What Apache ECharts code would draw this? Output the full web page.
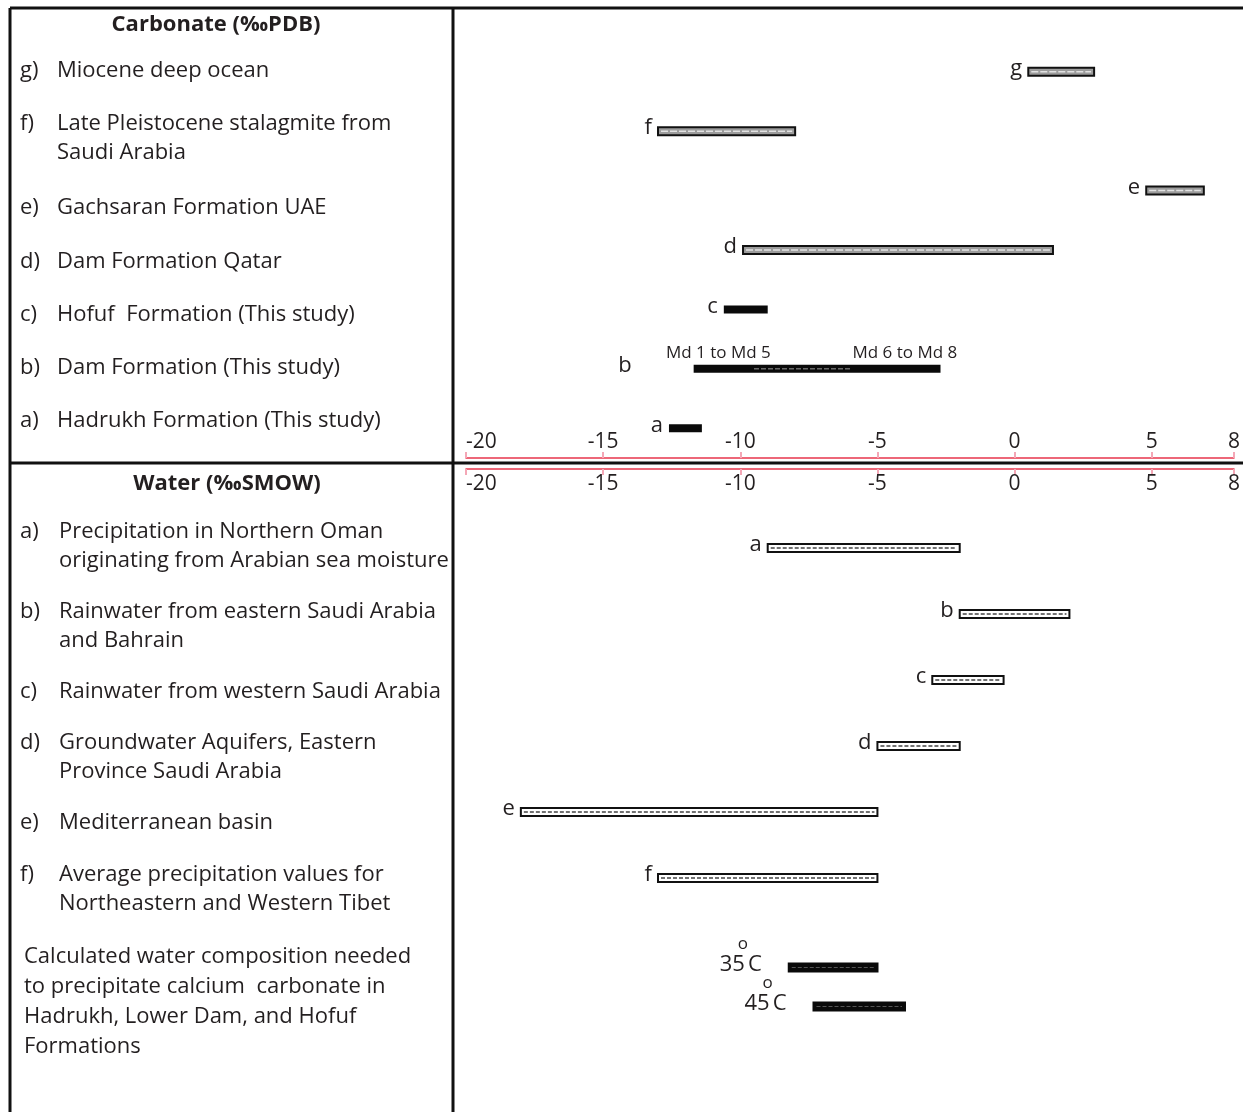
<!DOCTYPE html>
<html>
<head>
<meta charset="utf-8">
<title>Carbonate and water isotope ranges</title>
<script src="https://cdn.jsdelivr.net/npm/echarts@6/dist/echarts.min.js"></script>
<style>
  html, body { margin: 0; padding: 0; background: #fff; }
  #chart { width: 1243px; height: 1112px; }
</style>
</head>
<body>
<div id="chart"></div>
<script>
// carbonate (‰ PDB), top to bottom
var carbLetters = ['g', 'f', 'e', 'd', 'c', 'b', 'a'];
var carbDesc = [
    'Miocene deep ocean',
    'Late Pleistocene stalagmite from\nSaudi Arabia',
    'Gachsaran Formation UAE',
    'Dam Formation Qatar',
    'Hofuf  Formation (This study)',
    'Dam Formation (This study)',
    'Hadrukh Formation (This study)'
];
var carbLow = [0.5, -13.0, 4.8, -9.9, -10.6, -11.7, -12.6];
var carbHigh = [2.9, -8.0, 6.9, 1.4, -9.0, -2.7, -11.4];

// Dam Formation (this study) sub groups
var damNotes = ['Md 1 to Md 5', 'Md 6 to Md 8'];
var damNoteAt = [-10.8, -4.0];
var damOverlap = [-9.5, -6.0];

// water (‰ SMOW)
var waterLetters = ['a', 'b', 'c', 'd', 'e', 'f'];
var waterDesc = [
    'Precipitation in Northern Oman\noriginating from Arabian sea moisture',
    'Rainwater from eastern Saudi Arabia\nand Bahrain',
    'Rainwater from western Saudi Arabia',
    'Groundwater Aquifers, Eastern\nProvince Saudi Arabia',
    'Mediterranean basin',
    'Average precipitation values for\nNortheastern and Western Tibet'
];
var waterLow = [-9.0, -2.0, -3.0, -5.0, -18.0, -13.0];
var waterHigh = [-2.0, 2.0, -0.4, -2.0, -5.0, -5.0];

// calculated water composition
var calcDesc = 'Calculated water composition needed\nto precipitate calcium  carbonate in\nHadrukh, Lower Dam, and Hofuf\nFormations';
var calcTemps = ['35', '45'];
var calcLow = [-8.3, -7.4];
var calcHigh = [-5.0, -4.0];

var xMin = -20, xMax = 8, xStep = 5;

var ink = '#231f20';
var font = '"Open Sans", "Noto Sans", sans-serif';
var solidRows = ['c', 'b', 'a'];

function toRows(lo, hi) {
    return lo.map(function (v, i) { return [v, hi[i], i]; });
}

function barGroup(api, kind, h) {
    var i = api.value(2);
    var p0 = api.coord([api.value(0), i]);
    var p1 = api.coord([api.value(1), i]);
    var w = p1[0] - p0[0];
    var kids = [];
    if (kind === 'solid') {
        kids.push({ type: 'rect', shape: { x: p0[0], y: p0[1] - h / 2, width: w, height: h },
            style: { fill: '#0a0a0a' } });
    } else if (kind === 'grey') {
        kids.push({ type: 'rect', shape: { x: p0[0], y: p0[1] - h / 2, width: w, height: h },
            style: { fill: '#9c9c9c', stroke: '#111', lineWidth: 2 } });
        kids.push({ type: 'line', shape: { x1: p0[0] + 3, y1: p0[1], x2: p1[0] - 3, y2: p0[1] },
            style: { stroke: '#e2e2e2', lineWidth: 1.5, lineDash: [7, 2] } });
    } else {
        kids.push({ type: 'rect', shape: { x: p0[0], y: p0[1] - h / 2, width: w, height: h },
            style: { fill: '#fff', stroke: '#111', lineWidth: 2 } });
        kids.push({ type: 'line', shape: { x1: p0[0] + 3, y1: p0[1], x2: p1[0] - 3, y2: p0[1] },
            style: { stroke: '#444', lineWidth: 1.5, lineDash: [4, 2] } });
    }
    return { kids: kids, p0: p0, p1: p1 };
}

function letter(txt, x, y) {
    return { type: 'text', x: x, y: y,
        style: { text: txt, fontSize: 22, fontFamily: font, fill: ink, align: 'right', verticalAlign: 'middle' } };
}

function renderCarb(params, api) {
    var i = api.value(2);
    var L = carbLetters[i];
    var kind = solidRows.indexOf(L) >= 0 ? 'solid' : 'grey';
    var g = barGroup(api, kind, 8);
    var gap = (L === 'b') ? 62 : 6;
    g.kids.push(letter(L, g.p0[0] - gap, g.p0[1] - 3));
    if (L === 'b') {
        var q0 = api.coord([damOverlap[0], i]);
        var q1 = api.coord([damOverlap[1], i]);
        g.kids.push({ type: 'line', shape: { x1: q0[0], y1: q0[1], x2: q1[0], y2: q0[1] },
            style: { stroke: '#9a9a9a', lineWidth: 1, lineDash: [5, 2] } });
        damNotes.forEach(function (t, k) {
            var c = api.coord([damNoteAt[k], i]);
            g.kids.push({ type: 'text', x: c[0], y: c[1] - 16,
                style: { text: t, fontSize: 17, fontFamily: font, fill: ink, align: 'center', verticalAlign: 'middle' } });
        });
    }
    return { type: 'group', children: g.kids };
}

function renderWater(params, api) {
    var i = api.value(2);
    var g = barGroup(api, 'open', 8);
    g.kids.push(letter(waterLetters[i], g.p0[0] - 6, g.p0[1] - 3));
    return { type: 'group', children: g.kids };
}

function renderCalc(params, api) {
    var i = api.value(2);
    var g = barGroup(api, 'solid', 10);
    g.kids.push({ type: 'line', shape: { x1: g.p0[0] + 4, y1: g.p0[1], x2: g.p1[0] - 4, y2: g.p0[1] },
        style: { stroke: '#555', lineWidth: 1, lineDash: [4, 2] } });
    g.kids.push({ type: 'text', x: g.p0[0] - 26, y: g.p0[1] + 8,
        style: {
            text: '{n|' + calcTemps[i] + '}{o|o}{n|C}',
            align: 'right', verticalAlign: 'bottom',
            rich: {
                n: { fontSize: 22, fontFamily: font, fill: ink, lineHeight: 40, verticalAlign: 'bottom' },
                o: { fontSize: 17, fontFamily: font, fill: ink, lineHeight: 40, verticalAlign: 'top', width: 3 }
            }
        } });
    return { type: 'group', children: g.kids };
}

// left-hand table text
var graphics = [];
function addText(txt, x, y, opts) {
    var st = { text: txt, fontSize: 22, fontFamily: font, fill: ink, align: 'left', verticalAlign: 'middle' };
    for (var k in (opts || {})) st[k] = opts[k];
    graphics.push({ type: 'text', x: x, y: y, style: st, z: 10 });
}
function addBlock(label, desc, xl, xt, y, step) {
    if (label) addText(label, xl, y);
    desc.split('\n').forEach(function (line, k) { addText(line, xt, y + k * step); });
}

addText('Carbonate (‰PDB)', 216, 25, { fontWeight: 'bold', align: 'center' });
var carbTextY = [71, 124, 208, 262, 315, 368, 421];
carbDesc.forEach(function (d, i) { addBlock(carbLetters[i] + ')', d, 20, 57, carbTextY[i], 29); });

addText('Water (‰SMOW)', 227, 484, { fontWeight: 'bold', align: 'center' });
var waterTextY = [532, 612, 692, 743, 823, 875];
waterDesc.forEach(function (d, i) { addBlock(waterLetters[i] + ')', d, 20, 59, waterTextY[i], 29); });

addBlock(null, calcDesc, 0, 24, 957, 30);

// frame lines
var frame = { stroke: '#111', lineWidth: 3 };
[[10, 8, 1243, 8], [10, 8, 10, 1112], [453, 8, 453, 1112], [10, 463, 1243, 463]].forEach(function (s) {
    graphics.push({ type: 'line', shape: { x1: s[0], y1: s[1], x2: s[2], y2: s[3] }, style: frame, z: 5 });
});

var axisRed = { show: true, lineStyle: { color: '#e8364c', width: 1.5 } };
var tickPink = { show: true, inside: true, length: 6, lineStyle: { color: '#f4a7b6', width: 2 } };
var tickLabel = { show: true, inside: true, margin: 5, fontSize: 21, fontFamily: font, color: ink, alignMinLabel: 'left' };

var option = {
    animation: false,
    backgroundColor: '#fff',
    grid: [
        { left: 466, right: 7, top: 42, height: 416 },
        { left: 466, right: 7, top: 515, height: 396 },
        { left: 466, right: 7, top: 948, height: 78 }
    ],
    xAxis: [
        { gridIndex: 0, type: 'value', min: xMin, max: xMax, interval: xStep, position: 'bottom',
          axisLine: axisRed, axisTick: tickPink, axisLabel: tickLabel, splitLine: { show: false } },
        { gridIndex: 1, type: 'value', min: xMin, max: xMax, interval: xStep, position: 'top', offset: 46,
          axisLine: axisRed, axisTick: tickPink, axisLabel: tickLabel, splitLine: { show: false } },
        { gridIndex: 2, type: 'value', min: xMin, max: xMax, interval: xStep, show: false, splitLine: { show: false } }
    ],
    yAxis: [
        { gridIndex: 0, type: 'category', data: carbLetters, inverse: true, show: false },
        { gridIndex: 1, type: 'category', data: waterLetters, inverse: true, show: false },
        { gridIndex: 2, type: 'category', data: calcTemps, inverse: true, show: false }
    ],
    graphic: graphics,
    series: [
        { type: 'custom', name: 'Carbonate', xAxisIndex: 0, yAxisIndex: 0, clip: false,
          renderItem: renderCarb, encode: { x: [0, 1], y: 2 }, data: toRows(carbLow, carbHigh) },
        { type: 'custom', name: 'Water', xAxisIndex: 1, yAxisIndex: 1, clip: false,
          renderItem: renderWater, encode: { x: [0, 1], y: 2 }, data: toRows(waterLow, waterHigh) },
        { type: 'custom', name: 'Calculated', xAxisIndex: 2, yAxisIndex: 2, clip: false,
          renderItem: renderCalc, encode: { x: [0, 1], y: 2 }, data: toRows(calcLow, calcHigh) }
    ]
};

var chart = echarts.init(document.getElementById('chart'));
chart.setOption(option);
</script>
</body>
</html>
